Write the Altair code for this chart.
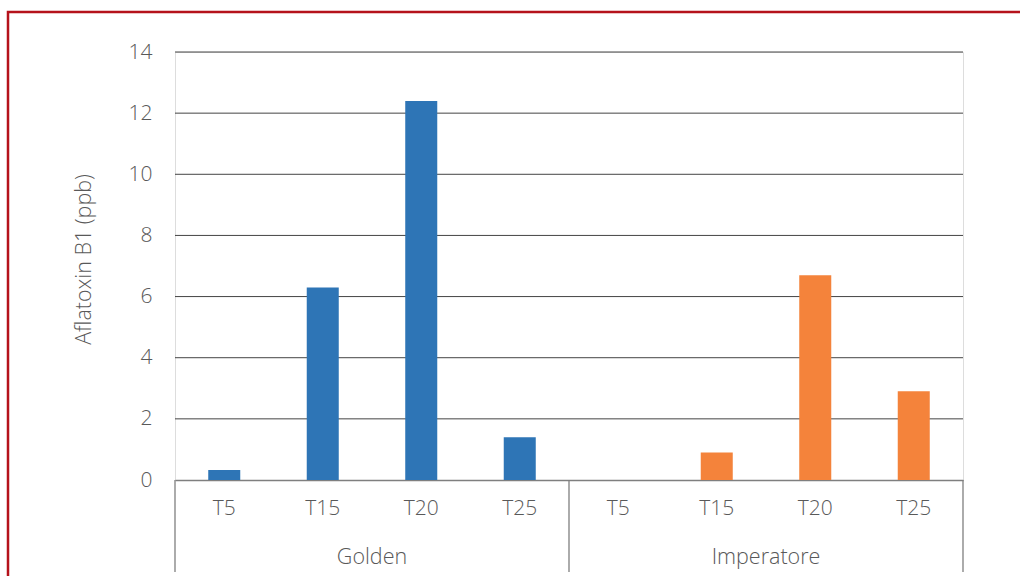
import altair as alt
import pandas as pd

# Aflatoxin B1 content by storage treatment for two cultivars
groups = ["Golden", "Golden", "Golden", "Golden",
          "Imperatore", "Imperatore", "Imperatore", "Imperatore"]
treatments = ["T5", "T15", "T20", "T25", "T5", "T15", "T20", "T25"]
afb1 = [0.33, 6.3, 12.4, 1.4, 0.0, 0.9, 6.7, 2.9]

group_names = ["Golden", "Imperatore"]
group_centres = [2, 6]          # centre of each block of four categories
separator_pos = [0, 4, 8]       # block boundaries
y_ticks = [0, 2, 4, 6, 8, 10, 12, 14]

W, H = 788, 428
FONT = "Open Sans"
TXT = "#595959"

df = pd.DataFrame({
    "group": groups,
    "treatment": treatments,
    "key": [g + "|" + t for g, t in zip(groups, treatments)],
    "afb1": afb1,
})
keys = list(df["key"])
yscale = alt.Scale(domain=[0, 14], nice=False)

# horizontal gridlines, drawn beneath the bars
grid = alt.Chart(pd.DataFrame({"v": y_ticks[1:]})).mark_rule(
    color="#444444", strokeWidth=1
).encode(
    y=alt.Y("v:Q", scale=yscale),
    x=alt.value(0),
    x2=alt.value(W),
)

bars = alt.Chart(df).mark_bar().encode(
    x=alt.X("key:N", sort=keys,
            scale=alt.Scale(paddingInner=0.675, paddingOuter=0.3375),
            axis=alt.Axis(title=None, labelExpr="split(datum.value, '|')[1]",
                          labelAngle=0, ticks=False, domain=True,
                          domainColor="#7f7f7f", domainWidth=1.3,
                          labelPadding=17, labelFontSize=21, labelColor=TXT,
                          labelFont=FONT, labelFontWeight=300)),
    y=alt.Y("afb1:Q", scale=yscale,
            axis=alt.Axis(title="Aflatoxin B1 (ppb)", values=y_ticks,
                          grid=False, domain=False, ticks=False, labelPadding=23,
                          labelFontSize=21, labelColor=TXT, labelFont=FONT,
                          labelFontWeight=300, titleFontSize=21.5,
                          titleColor=TXT, titleFont=FONT, titleFontWeight=300,
                          titleAngle=270, titleAlign="center",
                          titleBaseline="middle", titleX=-91, titleY=207)),
    color=alt.Color("group:N", legend=None,
                    scale=alt.Scale(domain=group_names,
                                    range=["#2e75b6", "#f4833b"])),
)

gdf = pd.DataFrame({"name": group_names, "pos": group_centres})
sdf = pd.DataFrame({"pos": separator_pos})
xq = alt.Scale(domain=[0, 8], nice=False, zero=False)

group_labels = alt.Chart(gdf).mark_text(
    font=FONT, fontSize=21.5, fontWeight=300, color=TXT, baseline="middle"
).encode(
    x=alt.X("pos:Q", scale=xq, axis=None),
    y=alt.value(H + 78),
    text="name:N",
)

separators = alt.Chart(sdf).mark_rule(color="#7f7f7f", strokeWidth=1.3).encode(
    x=alt.X("pos:Q", scale=xq, axis=None),
    y=alt.value(H),
    y2=alt.value(H + 92),
)

frame = alt.Chart(pd.DataFrame({"f": [0]})).mark_rect(
    fill=None, stroke="#b5121b", strokeWidth=2.5
).encode(
    x=alt.value(-167), x2=alt.value(W + 80),
    y=alt.value(-40), y2=alt.value(H + 140),
)

chart = alt.layer(grid, bars, group_labels, separators, frame).resolve_scale(
    x="independent"
).properties(
    width=W, height=H,
    padding={"left": 175, "top": 52, "right": 57, "bottom": 96},
    autosize=alt.AutoSizeParams(type="none"),
).configure_view(strokeWidth=0, stroke=None).configure(background="white")

chart.save("out.html", embed_options={"renderer": "svg", "actions": False})
